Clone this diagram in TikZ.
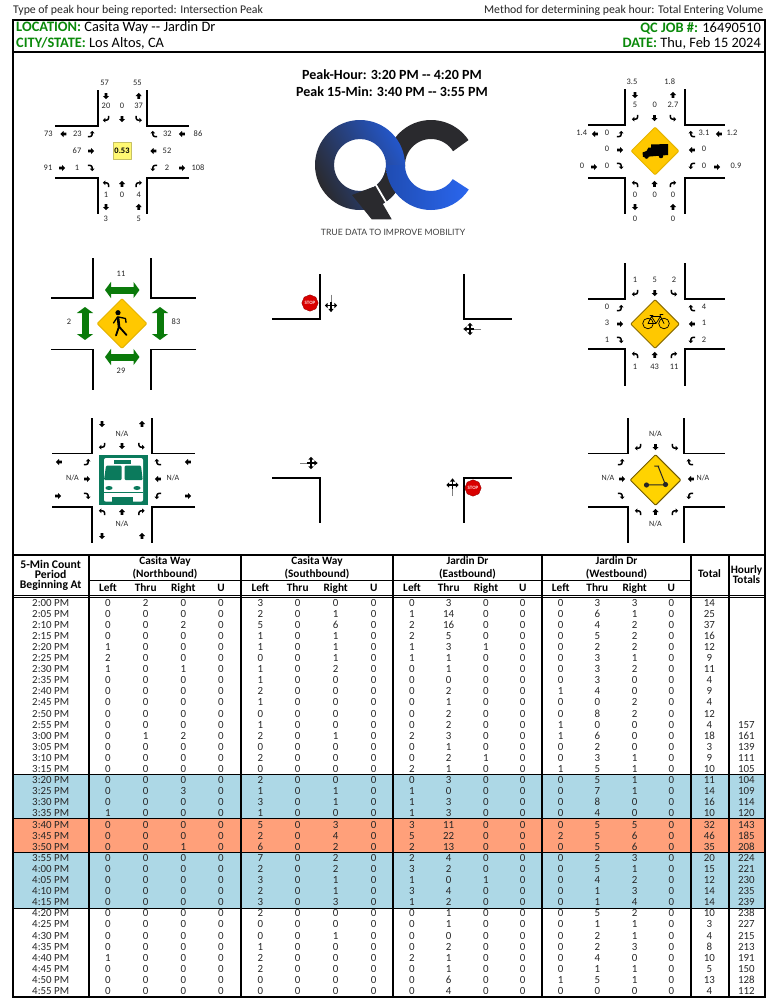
\documentclass[tikz,border=0pt]{standalone}
\usepackage{fontspec}
\setmainfont{Carlito}
\newfontfamily\logofont{Lato}
\usetikzlibrary{shapes.geometric,arrows.meta}
\definecolor{qcgreen}{HTML}{0B8A0B}
\definecolor{pedgreen}{HTML}{0A7A0A}
\definecolor{busgreen}{HTML}{0B7A5C}
\definecolor{signyellow}{HTML}{FFC800}
\definecolor{peakblue}{HTML}{ADD8E6}
\definecolor{peakorange}{HTML}{FFA07A}
\definecolor{cnttext}{HTML}{262626}
\definecolor{qcdark}{HTML}{2A2A2E}
\definecolor{qcnavy}{HTML}{1F2F55}
\definecolor{qcblue}{HTML}{2A66EE}
\tikzset{
  road/.style={line width=1.9pt,line cap=butt,line join=miter,color=black},
  rule/.style={line width=#1,line cap=butt,color=black},
  cnt/.style={font=\fontsize{8.4}{9}\selectfont,text=cnttext,inner sep=0pt},
  cell/.style={font=\fontsize{10.9}{11}\selectfont,text=cnttext,inner sep=0pt},
  hdr/.style={font=\bfseries\fontsize{11.3}{11}\selectfont,text=black,inner sep=0pt},
  headline/.style={font=\fontsize{14.4}{15}\selectfont,text=black,inner sep=0pt},
  warnsign/.style={diamond,aspect=1,draw=#1,fill=signyellow,line width=1pt,inner sep=0pt,rounded corners=1pt},
  stopsign/.style={regular polygon,regular polygon sides=8,regular polygon rotate=22.5,fill=red!85!black,draw=red!60!black,
    minimum size=15.5pt,inner sep=0pt,text=white!85!red,font=\bfseries\fontsize{5}{5}\selectfont},
  dblarr/.style={line width=7pt,color=pedgreen,line cap=butt,{Triangle[length=6pt,width=16pt]}-{Triangle[length=6pt,width=16pt]}},
  tnl/.style={},
  tnr/.style={xscale=-1},
  tsr/.style={yscale=-1},
  tsl/.style={scale=-1},
  tel/.style={rotate=-90},
  ter/.style={rotate=90,yscale=-1},
  twr/.style={rotate=-90,yscale=-1},
  twl/.style={rotate=90},
  pics/strarr/.style={code={
    \fill[black] (0,-3.2) -- (3,0) -- (1.3,0) -- (1.3,2.8) -- (-1.3,2.8) -- (-1.3,0) -- (-3,0) -- cycle;}},
  pics/turnarr/.style={code={
    \draw[black,line width=1.5pt,line cap=butt] (-1,-1.2) -- (0.4,-1.2) to[out=0,in=90] (2.6,1) -- (2.6,3.2);
    \fill[black] (-3.2,-1.2) -- (-0.6,-3.6) -- (-0.6,1.2) -- cycle;}},
  pics/movecross/.style={code={
    \draw[gray,line width=1pt,line cap=butt] (0,-11) -- (0,-2);
    \draw[black,line width=1.1pt,line cap=butt] (0,-4) -- (0,4) (-4,0) -- (4,0);
    \fill[black] (-6.2,0) -- (-3.4,-2.6) -- (-3.4,2.6) -- cycle;
    \fill[black] (6.2,0) -- (3.4,-2.6) -- (3.4,2.6) -- cycle;
    \fill[black] (0,6.7) -- (-2.6,3.4) -- (2.6,3.4) -- cycle;}},
}
\def\colx{{50.7,108,145.7,183.3,221,260.3,297.7,335.7,373.7,412,448.7,486,522.7,560.7,597.3,634.7,671.3,709.3,746.3}}
\begin{document}
\begin{tikzpicture}[x=1pt,y=-1pt,line cap=round,line join=round]
\useasboundingbox (0,0) rectangle (766,998);
\fill[white] (0,0) rectangle (766,998);
% top of the sheet
\node[cell,font=\fontsize{11.8}{12}\selectfont,anchor=west] (kindlbl) at (13,10) {Type of peak hour being reported: Intersection Peak};
\node[cell,font=\fontsize{11.8}{12}\selectfont,anchor=east] (methodlbl) at (763.5,10) {Method for determining peak hour: Total Entering Volume};
\node[headline,anchor=west] (loclbl) at (16,28) {\textcolor{qcgreen}{\bfseries LOCATION:} Casita Way {-}{-} Jardin Dr};
\node[headline,anchor=west] (citylbl) at (16,43) {\textcolor{qcgreen}{\bfseries CITY/STATE:} Los Altos, CA};
\node[headline,anchor=east] (joblbl) at (761,28) {\textcolor{qcgreen}{\bfseries QC JOB \#:} 16490510};
\node[headline,anchor=east] (datelbl) at (761,43) {\textcolor{qcgreen}{\bfseries DATE:} Thu, Feb 15 2024};
\node[headline,font=\bfseries\fontsize{14}{14}\selectfont] (peakhr) at (392,75) {Peak-Hour: 3:20 PM {-}{-} 4:20 PM};
\node[headline,font=\bfseries\fontsize{14}{14}\selectfont] (peakmin) at (392,92) {Peak 15-Min: 3:40 PM {-}{-} 3:55 PM};
% logo
\draw[qcdark,line width=19pt,line cap=butt] (431,165) ++(-33:35.5) arc[start angle=-33,end angle=-182,radius=35.5];
\shade[even odd rule,shading=axis,bottom color=qcdark,middle color=qcnavy!85!qcdark,top color=qcblue!85!black,shading angle=-62] (360,165) circle[radius=45] (360,165) circle[radius=26];
\fill[qcdark] (360,165) ++(5:26) arc[start angle=5,end angle=70,radius=26] -- ++(70:19) arc[start angle=70,end angle=5,radius=45] -- cycle;
\draw[white,line width=1.8pt,line cap=butt] (374.8,183) -- (393,214);
\fill[qcdark] (373,187) -- (391.7,219.3) -- (371.7,219.3) -- (352,195) -- cycle;
\shade[left color=qcblue!75!black,right color=qcblue] (431,165) ++(33:26) arc[start angle=33,end angle=180,radius=26] -- ++(-19,0) arc[start angle=180,end angle=33,radius=45] -- cycle;
\node[inner sep=0pt,text=black!75,font=\logofont\fontsize{8.7}{9}\selectfont] (tagline) at (393,232) {TRUE DATA TO IMPROVE MOBILITY};
% four-legged intersections
\foreach \xa/\xb/\xc/\xd/\ya/\yb/\yc/\yd in {55/98.3/146.7/189/90/126/178/214,588/624.7/684.7/725/89/125/178/214,
  51/93/151/196/258/298/349.5/390,588/625/685/725/263/299/349/386,52/92/152/195/418/453.5/507/543,588/628.3/684/725/418/453.5/507/543}
  \draw[road] (\xb,\ya) -- (\xb,\yb) -- (\xa,\yb) (\xc,\ya) -- (\xc,\yb) -- (\xd,\yb) (\xa,\yc) -- (\xb,\yc) -- (\xb,\yd) (\xd,\yc) -- (\xc,\yc) -- (\xc,\yd);
% the four corners in the middle
\draw[road] (320,274) -- (320,319) -- (272,319);
\draw[road] (464,274) -- (464,319) -- (512,319);
\draw[road] (272,478) -- (320,478) -- (320,523);
\draw[road] (512,478) -- (464,478) -- (464,523);
\node[stopsign] (stopnorth) at (310,303) {STOP};
\node[stopsign] (stopsouth) at (473,488) {STOP};
\pic at (331,305.5) {movecross};
\pic[rotate=-90] at (470,329) {movecross};
\pic[rotate=90] at (311,463) {movecross};
\pic[rotate=180] at (452.5,485) {movecross};
% all vehicles
\foreach \px/\py/\t [count=\n] in {104.7/83/57,137.3/83/55,106/105.7/20,122/105.7/0,138.7/105.7/37,48.3/134/73,77.3/134/23,77/151/67,48/168/91,77/168/1,
  167.3/134/32,198/134/86,167/151/52,167/168/2,198/168/108,106/195/1,122/195/0,138.7/195/4,105.7/219/3,138.7/219/5}
  \node[cnt] (vol\n) at (\px,\py) {\t};
\foreach \px/\py/\a in {106/96/180,138.7/96/0,122/119/180,63.5/134/90,91/151/-90,62/168/-90,182/134/90,153.5/151/90,182/168/-90,122/184/0,106/207/180,138.7/207/0}
  \pic[rotate=\a] at (\px,\py) {strarr};
\foreach \px/\py/\st in {106/119/tsr,138.7/119/tsl,91/134/tel,91/168/ter,154/134/twr,154/168/twl,106/184/tnl,138.7/184/tnr}
  \pic[\st] at (\px,\py) {turnarr};
\node[draw=yellow!50!gray,fill=yellow!55,line width=0.6pt,minimum width=18pt,minimum height=17pt,inner sep=0pt,text=black,font=\bfseries\fontsize{8.4}{9}\selectfont] (phfbox) at (122,151) {0.53};
% trucks
\foreach \px/\py/\t [count=\n] in {632/82/3.5,669.7/82/1.8,635/105/5,654.7/105/0,673/105/2.7,581.7/133/1.4,607/133/0,607/149/0,582/166/0,607/166/0,
  704/133/3.1,732/133/1.2,704/149/0,704/166/0,736/166/0.9,635/195/0,654.7/195/0,673/195/0,635/219/0,673/219/0}
  \node[cnt] (trk\n) at (\px,\py) {\t};
\foreach \px/\py/\a in {635/95/180,673/95/0,654.5/118/180,595/134/90,620/150/-90,594/167/-90,719/134/90,692/150/90,717/167/-90,654.5/184/0,635/207/180,673/207/0}
  \pic[rotate=\a] at (\px,\py) {strarr};
\foreach \px/\py/\st in {635/118/tsr,673/118/tsl,620/134/tel,620/166/ter,692/134/twr,692/166/twl,635/184/tnl,673/184/tnr}
  \pic[\st] at (\px,\py) {turnarr};
\node[warnsign=signyellow!90!black,minimum width=48pt,minimum height=48pt] (trucksign) at (655,151) {};
\fill[black] (651,144.5) -- (668,144) -- (668,155) -- (650,156.5) -- (643,157) -- (642.5,152.5) -- (646.5,151) -- (648.5,147.5) -- (651,147.5) -- cycle;
\fill[black] (646.5,156.5) circle[radius=2.3] (661,156) circle[radius=2.3];
% pedestrians
\foreach \px/\py/\t [count=\n] in {121/274/11,121/371/29,69/322/2,176/322/83}
  \node[cnt] (xing\n) at (\px,\py) {\t};
\draw[dblarr] (105,290) -- (139.5,290);
\draw[dblarr] (105,357) -- (139.5,357);
\draw[dblarr] (85,307) -- (85,340);
\draw[dblarr] (160,307) -- (160,340);
\node[warnsign=signyellow!90!black,minimum width=50pt,minimum height=50pt] (pedsign) at (122,323.5) {};
\fill[black] (118,312.7) circle[radius=2.6];
\draw[black,line width=2.6pt] (118,317.5) -- (119,326.5);
\draw[black,line width=1.8pt] (119,326.5) -- (116,335.5) (119,326.5) -- (126.5,335);
\draw[black,line width=1.3pt] (117.5,317) -- (113.5,323) (118.5,317) -- (125.5,318.5) -- (126,322.5);
% bicycles
\foreach \px/\py/\t [count=\n] in {635/280/1,654.7/280/5,674/280/2,607/307/0,607/323/3,607/340/1,704/307/4,704/323/1,704/340/2,635/367/1,654.7/367/43,674/367/11}
  \node[cnt] (bik\n) at (\px,\py) {\t};
\foreach \px/\py/\a in {654.7/293/180,620/324/-90,692/324/90,654.7/355/0}
  \pic[rotate=\a] at (\px,\py) {strarr};
\foreach \px/\py/\st in {635/293/tsr,674/293/tsl,620/308/tel,620/340/ter,692/308/twr,692/340/twl,635/355/tnl,674/355/tnr}
  \pic[\st] at (\px,\py) {turnarr};
\node[warnsign=black!45!signyellow,minimum width=49pt,minimum height=49pt] (bikesign) at (655,324) {};
\draw[black,line width=0.7pt] (648,323.5) circle[radius=5.3] (664,323.5) circle[radius=5.3];
\draw[black,line width=0.7pt] (648,323.5) -- (651.5,316.5) -- (660.5,316.5) -- (664,323.5) (651.5,316.5) -- (656,323.5) -- (660.5,316.5) (656,323.5) -- (648,323.5) (650,315.5) -- (653,315.5) (660.5,316.5) -- (660,314.5) -- (663,314.5);
% transit
\foreach \px/\py [count=\n] in {122/434,72.5/478,173/478,122/524}
  \node[cnt,font=\fontsize{8}{9}\selectfont] (bus\n) at (\px,\py) {N/A};
\foreach \px/\py/\a in {102/424/180,142/424/0,122/446/180,59/462/90,87/479/-90,58/496/-90,188/462/90,158/479/90,188/496/-90,122/512/0,102/536/180,142/536/0}
  \pic[rotate=\a] at (\px,\py) {strarr};
\foreach \px/\py/\st in {102/446/tsr,141.5/446/tsl,87/462/tel,87/496/ter,158/462/twr,158/496/twl,102/512/tnl,141.5/512/tnr}
  \pic[\st] at (\px,\py) {turnarr};
\fill[busgreen] (98.7,455) rectangle (148,505);
\fill[white,rounded corners=2pt] (104,458) -- (143,458) -- (143,501.7) -- (104,501.7) -- cycle;
\fill[busgreen] (114,460) rectangle (131,464.3);
\fill[busgreen,rounded corners=1pt] (106,465.7) -- (121.7,465.7) -- (121.7,480) -- (104,480) -- cycle;
\fill[busgreen,rounded corners=1pt] (124.7,465.7) -- (141,465.7) -- (142.7,480) -- (124.7,480) -- cycle;
\fill[busgreen] (109,488) ellipse[x radius=3.6,y radius=2] (137,488) ellipse[x radius=3.6,y radius=2];
\fill[busgreen] (104,492) rectangle (143,493);
\fill[busgreen] (112,497) rectangle (132.7,502);
% scooters
\foreach \px/\py [count=\n] in {655.5/434,608/478,703/478,655.5/524}
  \node[cnt,font=\fontsize{8}{9}\selectfont] (sct\n) at (\px,\py) {N/A};
\foreach \px/\py/\a in {655.5/447/180,622/479/-90,691/479/90,655.5/512/0}
  \pic[rotate=\a] at (\px,\py) {strarr};
\foreach \px/\py/\st in {638/447/tsr,675/447/tsl,621/462/tel,621/496/ter,690/462/twr,690/496/twl,638/512/tnl,675/512/tnr}
  \pic[\st] at (\px,\py) {turnarr};
\node[warnsign=black!55!signyellow,fill=signyellow!80!yellow,minimum width=51pt,minimum height=51pt] (scootsign) at (655.5,480) {};
\draw[black!85,line width=1pt] (648,484.8) -- (665.5,484.8) -- (658.3,466.7) (654.7,466) -- (658.8,466);
\fill[black!85] (646.5,485) circle[radius=2.6] (665.5,484.5) circle[radius=2.6];
% count bands
\fill[peakblue] (13,774) rectangle (765,818.3);
\fill[peakorange] (13,818.3) rectangle (765,852.3);
\fill[peakblue] (13,852.3) rectangle (765,908.3);
% table heading
\node[hdr] (periodhda) at (50.7,564.5) {\fontsize{11.7}{12}\selectfont 5-Min Count};
\node[hdr] (periodhdb) at (50.7,574) {\fontsize{11.7}{12}\selectfont Period};
\node[hdr] (periodhdc) at (50.7,585.5) {\fontsize{11.7}{12}\selectfont Beginning At};
\foreach \cc/\st/\bd [count=\n] in {165/Casita Way/Northbound,317/Casita Way/Southbound,467.5/Jardin Dr/Eastbound,616.5/Jardin Dr/Westbound}{
  \node[hdr] (road\n) at (\cc,561) {\st};
  \node[hdr] (dirn\n) at (\cc,574.5) {(\bd)};
}
\foreach \cc/\t [count=\n] in {108/Left,145.7/Thru,183.3/Right,221/U,260.3/Left,297.7/Thru,335.7/Right,373.7/U,412/Left,448.7/Thru,486/Right,522.7/U,560.7/Left,597.3/Thru,634.7/Right,671.3/U}
  \node[hdr] (move\n) at (\cc,588) {\t};
\node[hdr] (totalhd) at (709.5,574) {Total};
\node[hdr] (hourlyhd) at (746.5,570.3) {Hourly};
\node[hdr] (totalshd) at (746.5,580) {Totals};
% table body
\foreach \rw [count=\r] in {
  {2:00 PM,0,2,0,0,3,0,0,0,0,3,0,0,0,3,3,0,14},
  {2:05 PM,0,0,0,0,2,0,1,0,1,14,0,0,0,6,1,0,25},
  {2:10 PM,0,0,2,0,5,0,6,0,2,16,0,0,0,4,2,0,37},
  {2:15 PM,0,0,0,0,1,0,1,0,2,5,0,0,0,5,2,0,16},
  {2:20 PM,1,0,0,0,1,0,1,0,1,3,1,0,0,2,2,0,12},
  {2:25 PM,2,0,0,0,0,0,1,0,1,1,0,0,0,3,1,0,9},
  {2:30 PM,1,0,1,0,1,0,2,0,0,1,0,0,0,3,2,0,11},
  {2:35 PM,0,0,0,0,1,0,0,0,0,0,0,0,0,3,0,0,4},
  {2:40 PM,0,0,0,0,2,0,0,0,0,2,0,0,1,4,0,0,9},
  {2:45 PM,0,0,0,0,1,0,0,0,0,1,0,0,0,0,2,0,4},
  {2:50 PM,0,0,0,0,0,0,0,0,0,2,0,0,0,8,2,0,12},
  {2:55 PM,0,0,0,0,1,0,0,0,0,2,0,0,1,0,0,0,4,157},
  {3:00 PM,0,1,2,0,2,0,1,0,2,3,0,0,1,6,0,0,18,161},
  {3:05 PM,0,0,0,0,0,0,0,0,0,1,0,0,0,2,0,0,3,139},
  {3:10 PM,0,0,0,0,2,0,0,0,0,2,1,0,0,3,1,0,9,111},
  {3:15 PM,0,0,0,0,0,0,0,0,2,1,0,0,1,5,1,0,10,105},
  {3:20 PM,0,0,0,0,2,0,0,0,0,3,0,0,0,5,1,0,11,104},
  {3:25 PM,0,0,3,0,1,0,1,0,1,0,0,0,0,7,1,0,14,109},
  {3:30 PM,0,0,0,0,3,0,1,0,1,3,0,0,0,8,0,0,16,114},
  {3:35 PM,1,0,0,0,1,0,0,0,1,3,0,0,0,4,0,0,10,120},
  {3:40 PM,0,0,0,0,5,0,3,0,3,11,0,0,0,5,5,0,32,143},
  {3:45 PM,0,0,0,0,2,0,4,0,5,22,0,0,2,5,6,0,46,185},
  {3:50 PM,0,0,1,0,6,0,2,0,2,13,0,0,0,5,6,0,35,208},
  {3:55 PM,0,0,0,0,7,0,2,0,2,4,0,0,0,2,3,0,20,224},
  {4:00 PM,0,0,0,0,2,0,2,0,3,2,0,0,0,5,1,0,15,221},
  {4:05 PM,0,0,0,0,3,0,1,0,1,0,1,0,0,4,2,0,12,230},
  {4:10 PM,0,0,0,0,2,0,1,0,3,4,0,0,0,1,3,0,14,235},
  {4:15 PM,0,0,0,0,3,0,3,0,1,2,0,0,0,1,4,0,14,239},
  {4:20 PM,0,0,0,0,2,0,0,0,0,1,0,0,0,5,2,0,10,238},
  {4:25 PM,0,0,0,0,0,0,0,0,0,1,0,0,0,1,1,0,3,227},
  {4:30 PM,0,0,0,0,0,0,1,0,0,0,0,0,0,2,1,0,4,215},
  {4:35 PM,0,0,0,0,1,0,0,0,0,2,0,0,0,2,3,0,8,213},
  {4:40 PM,1,0,0,0,2,0,0,0,2,1,0,0,0,4,0,0,10,191},
  {4:45 PM,0,0,0,0,2,0,0,0,0,1,0,0,0,1,1,0,5,150},
  {4:50 PM,0,0,0,0,0,0,0,0,0,6,0,0,1,5,1,0,13,128},
  {4:55 PM,0,0,0,0,0,0,0,0,0,4,0,0,0,0,0,0,4,112}}
  \foreach \v [count=\c] in \rw {
    \pgfmathsetmacro{\cx}{\colx[\c-1]}
    \pgfmathsetmacro{\cy}{606+11.1*(\r-1)}
    \node[cell,anchor=base] (cell\r-\c) at (\cx,\cy) {\v};
  }
% rules
\draw[rule=1pt] (13,774) -- (765,774) (13,818.3) -- (765,818.3) (13,852.3) -- (765,852.3) (13,908.3) -- (765,908.3);
\draw[rule=1pt] (89,580) -- (691,580);
\draw[rule=1pt] (13,595) -- (765,595) (13,597.6) -- (765,597.6);
\foreach \x/\w in {89/1.6pt,241/1.6pt,393/1.6pt,542/1.6pt,691/1.6pt,729/1.2pt}
  \draw[rule=\w] (\x,554) -- (\x,997);
\draw[rule=2pt] (12,20) -- (765.5,20);
\draw[rule=1.8pt] (13,51.7) -- (765,51.7);
\draw[rule=2pt] (13,555) -- (765,555);
\draw[rule=1.4pt] (12,997) -- (765.5,997);
\draw[rule=2pt] (13,20) -- (13,998);
\draw[rule=2pt] (764.7,20) -- (764.7,998);
\end{tikzpicture}
\end{document}
